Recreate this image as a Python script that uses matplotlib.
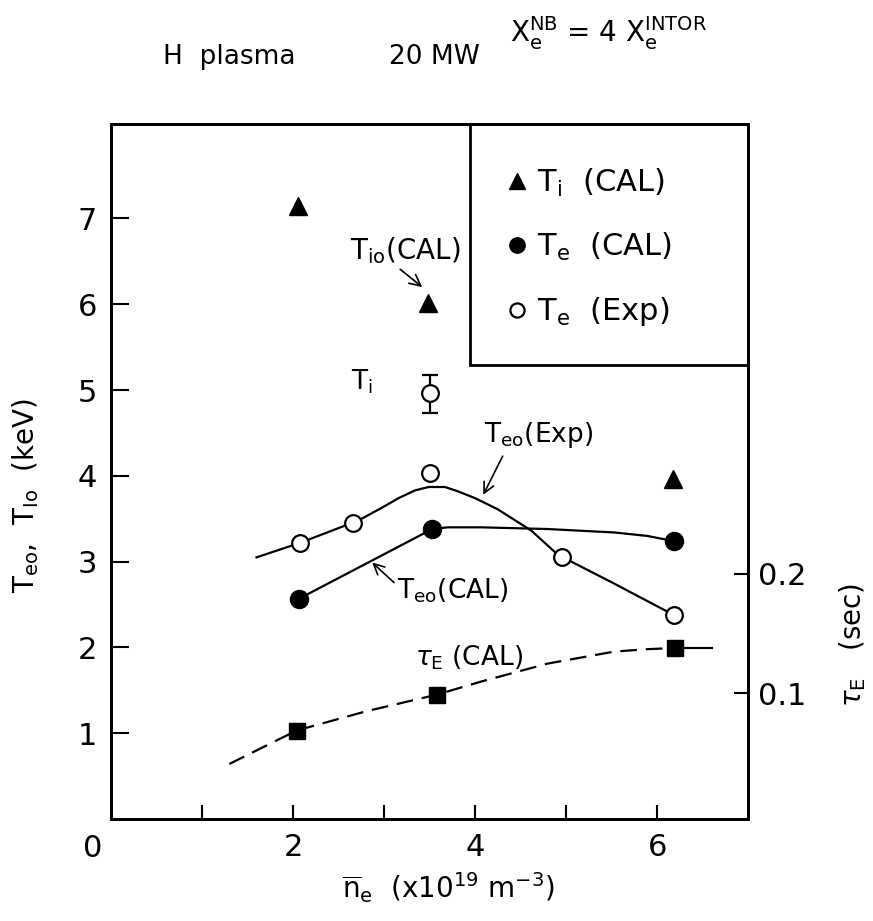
import numpy as np
import matplotlib.pyplot as plt

plt.rcParams['font.family'] = ['DejaVu Sans']
plt.rcParams['mathtext.fontset'] = 'dejavusans'

# Calculated ion temperature (triangles)
ti_cal_x = [2.05, 3.48, 6.17]
ti_cal_y = [7.15, 6.02, 3.96]

# Calculated electron temperature (filled circles)
te_cal_x = [2.07, 3.53, 6.18]
te_cal_y = [2.57, 3.38, 3.24]

# Measured electron temperature (open circles)
te_exp_x = [2.08, 2.66, 3.51, 4.96, 6.18]
te_exp_y = [3.22, 3.45, 4.03, 3.05, 2.38]

# Measured ion temperature with error bar
ti_exp_x = [3.51]
ti_exp_y = [4.96]
ti_exp_lo = [0.23]
ti_exp_hi = [0.22]

# Hand-drawn curves
exp_curve_x = [1.6, 2.08, 2.72, 2.98, 3.16, 3.34, 3.49, 3.67, 3.81,
               4.0, 4.25, 4.62, 4.91, 5.5, 6.18]
exp_curve_y = [3.05, 3.22, 3.48, 3.63, 3.74, 3.83, 3.87, 3.87, 3.82,
               3.74, 3.61, 3.36, 3.08, 2.76, 2.38]
cal_curve_x = [2.07, 3.53, 3.70, 4.07, 4.80, 5.53, 5.89, 6.18]
cal_curve_y = [2.57, 3.38, 3.40, 3.40, 3.38, 3.34, 3.30, 3.24]

# Energy confinement time (right axis, sec)
tau_x = [2.04, 3.58, 6.2]
tau_y = [0.069, 0.099, 0.138]
tau_curve_x = [1.3, 2.04, 2.8, 3.58, 4.07, 4.8, 5.53, 5.89, 6.2]
tau_curve_y = [0.041, 0.069, 0.085, 0.099, 0.110, 0.125, 0.135, 0.137, 0.138]
tau_tail_x = [6.2, 6.6]
tau_tail_y = [0.138, 0.138]

fig = plt.figure(figsize=(8.73, 9.21), dpi=100)
ax = fig.add_axes([0.127, 0.1107, 0.730, 0.7546])
ax2 = ax.twinx()

ax.set_xlim(0, 7.0)
ax.set_ylim(0, 8.1)
ax2.set_ylim(-0.005, 0.576)

for a in (ax, ax2):
    for s in a.spines.values():
        s.set_linewidth(2)

# curves
ax.plot(exp_curve_x, exp_curve_y, color='black', lw=1.6)
ax.plot(cal_curve_x, cal_curve_y, color='black', lw=1.6)
ax2.plot(tau_curve_x, tau_curve_y, color='black', lw=1.6, linestyle=(0, (7.5, 4)))
ax2.plot(tau_tail_x, tau_tail_y, color='black', lw=1.6)

# markers
h_ti, = ax.plot(ti_cal_x, ti_cal_y, linestyle='none', marker='^', ms=13,
                color='black', label=r'$\mathrm{T_i}$  (CAL)')
h_te, = ax.plot(te_cal_x, te_cal_y, linestyle='none', marker='o', ms=13,
                color='black', label=r'$\mathrm{T_e}$  (CAL)')
h_ex, = ax.plot(te_exp_x, te_exp_y, linestyle='none', marker='o', ms=12,
                mfc='white', mec='black', mew=1.6, label=r'$\mathrm{T_e}$  (Exp)')
ax.errorbar(ti_exp_x, ti_exp_y, yerr=[ti_exp_lo, ti_exp_hi], fmt='o', ms=12,
            mfc='white', mec='black', mew=1.6, ecolor='black', elinewidth=1.6,
            capsize=6, capthick=1.6)
ax2.plot(tau_x, tau_y, linestyle='none', marker='s', ms=11, color='black')

# annotations
fs = 19
ax.annotate(r'$\mathrm{T_{io}}$(CAL)', xy=(3.42, 6.2), xytext=(2.63, 6.62),
            fontsize=20, va='center',
            arrowprops=dict(arrowstyle='->', color='black', lw=1.2,
                            shrinkA=0, shrinkB=0, relpos=(0.42, 0.0)))
ax.text(2.64, 5.1, r'$\mathrm{T_i}$', fontsize=fs, va='center')
ax.annotate(r'$\mathrm{T_{eo}}$(Exp)', xy=(4.09, 3.78), xytext=(4.1, 4.48),
            fontsize=fs, va='center',
            arrowprops=dict(arrowstyle='->', color='black', lw=1.2,
                            shrinkA=3, shrinkB=0, relpos=(0.2, 0.0)))
ax.annotate(r'$\mathrm{T_{eo}}$(CAL)', xy=(2.87, 2.99), xytext=(3.14, 2.66),
            fontsize=fs, va='center',
            arrowprops=dict(arrowstyle='->', color='black', lw=1.2,
                            shrinkA=0, shrinkB=0, relpos=(0.0, 0.7)))
ax.text(3.34, 1.88, r'$\tau_\mathrm{E}$ (CAL)', fontsize=fs, va='center')

# legend box
box = plt.Rectangle((3.94, 5.29), 7.0 - 3.94, 8.1 - 5.29, fill=False,
                    lw=2, ec='black', clip_on=False)
ax.add_patch(box)
leg = ax.legend(handles=[h_ti, h_te, h_ex], loc='upper left',
                bbox_to_anchor=(0.575, 0.978), frameon=False, fontsize=22,
                handlelength=0.8, handletextpad=0.25, labelspacing=1.05,
                markerscale=0.85)

# ticks
tfs = 22
ax.set_xticks(range(1, 7))
ax.set_xticklabels(['', '2', '', '4', '', '6'])
ax.set_yticks(range(1, 8))
ax.tick_params(axis='x', direction='in', length=10, width=1.5,
               labelsize=tfs, pad=10, top=False)
ax.tick_params(axis='y', direction='in', length=13, width=1.5,
               labelsize=tfs, pad=10, right=False)
ax2.set_yticks([0.1, 0.2])
ax2.set_yticklabels(['0.1', '0.2'])
ax2.tick_params(axis='y', direction='in', length=10, width=1.5,
                labelsize=tfs, pad=7)
ax.text(-0.2, -0.17, '0', fontsize=tfs, ha='center', va='top')

# axis labels and header text
fig.text(0.029, 0.4625, r'$\mathrm{T_{eo}}$,  $\mathrm{T_{Io}}$  (keV)',
         fontsize=20, rotation=90, ha='center', va='center')
fig.text(0.977, 0.30, r'$\tau_\mathrm{E}$   (sec)', fontsize=20,
         rotation=90, ha='center', va='center')
fig.text(0.513, 0.036, r'$\overline{\mathrm{n}}_\mathrm{e}$  (x10$^{19}$ m$^{-3}$)',
         fontsize=20, ha='center', va='center')
fig.text(0.187, 0.938, 'H  plasma', fontsize=fs, va='center')
fig.text(0.446, 0.938, '20 MW', fontsize=fs, va='center')
fig.text(0.584, 0.964, r'$\mathrm{X_e^{NB}}$ = 4 $\mathrm{X_e^{INTOR}}$',
         fontsize=20, va='center')

fig.savefig('out.png', dpi=100)
